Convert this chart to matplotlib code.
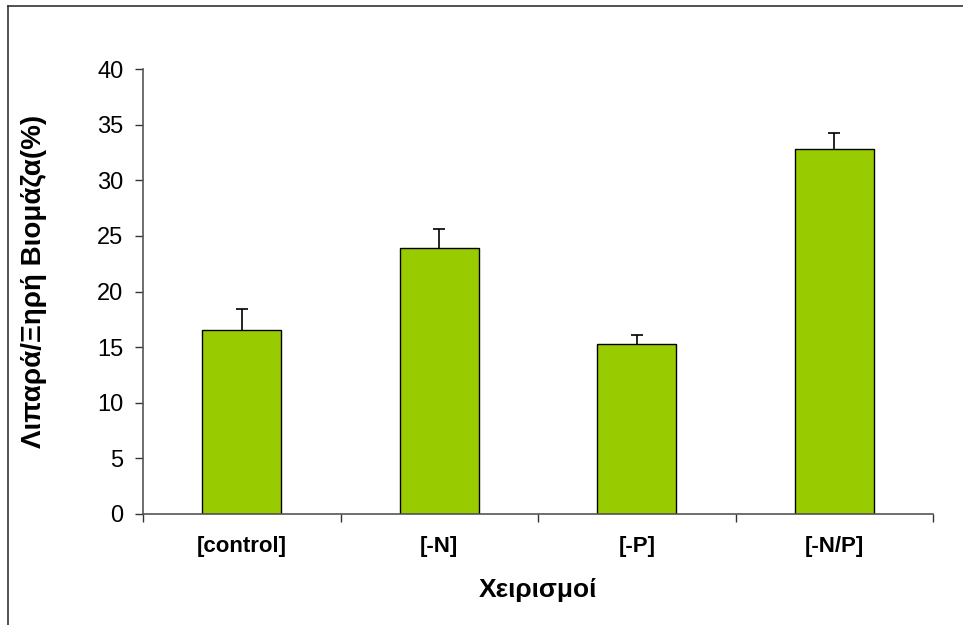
import matplotlib
matplotlib.use('Agg')
import matplotlib.pyplot as plt
from matplotlib.lines import Line2D
import numpy as np

# data
categories = ['[control]', '[-N]', '[-P]', '[-N/P]']
values = [16.5, 23.9, 15.3, 32.8]
errors = [1.9, 1.7, 0.8, 1.45]

plt.rcParams['font.family'] = ['Liberation Sans', 'DejaVu Sans']

fig = plt.figure(figsize=(9.63, 6.25), dpi=100)
ax = fig.add_axes([143 / 963, 1 - 514 / 625, (933 - 143) / 963, (514 - 69) / 625])

x = np.arange(len(categories))
ax.bar(x, values, width=0.40, color='#99CC00', edgecolor='black', linewidth=1.0, zorder=2)
eb = ax.errorbar(x, values, yerr=[np.zeros(len(errors)), errors], fmt='none',
                 ecolor='black', elinewidth=1.2, capsize=4, capthick=1.2, zorder=3)
# hide the lower caps, only the upper whisker is drawn
eb[1][0].set_visible(False)

ax.set_xlim(-0.5, len(categories) - 0.5)
ax.set_ylim(0, 40)
ax.set_yticks(np.arange(0, 41, 5))

# category ticks sit between the groups, like Excel
ax.set_xticks(np.arange(-0.5, len(categories), 1.0))
ax.set_xticklabels([])
ax.set_xticks(x, minor=True)
ax.set_xticklabels(categories, minor=True, fontsize=16, fontweight='bold')
ax.tick_params(axis='x', which='minor', length=0, pad=16)
ax.tick_params(axis='x', which='major', length=6, width=1, color='#333333', direction='out')
ax.tick_params(axis='y', length=6, width=1, color='#333333', labelsize=17, pad=8)

for s in ['top', 'right']:
    ax.spines[s].set_visible(False)
for s in ['left', 'bottom']:
    ax.spines[s].set_color('#555555')
    ax.spines[s].set_linewidth(1.2)

ax.set_xlabel('Χειρισμοί', fontsize=19, fontweight='bold', labelpad=15)
ax.set_ylabel('Λιπαρά/Ξηρή Βιομάζα(%)', fontsize=20, fontweight='bold')
ax.yaxis.set_label_coords((47 - 143) / 790, (514 - 281) / 445)

# outer chart frame (only left and top edges fall inside the picture)
fig.add_artist(Line2D([8 / 963, 8 / 963], [0, 1 - 6 / 625], transform=fig.transFigure,
                      color='#333333', linewidth=1.2))
fig.add_artist(Line2D([8 / 963, 1], [1 - 6 / 625, 1 - 6 / 625], transform=fig.transFigure,
                      color='#333333', linewidth=1.2))

fig.savefig('out.png', dpi=100)
